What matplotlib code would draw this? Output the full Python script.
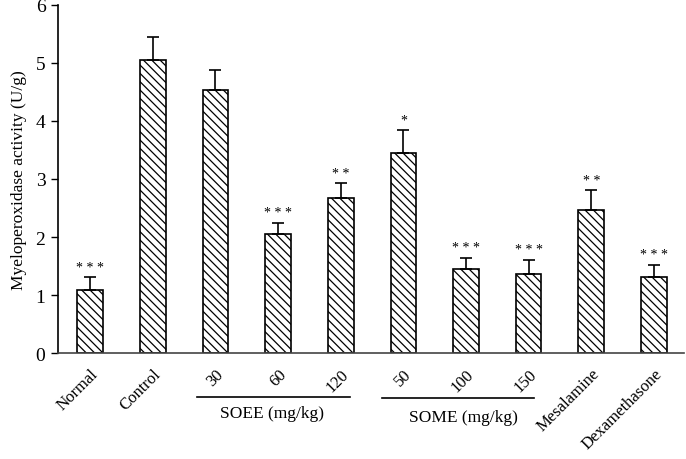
import matplotlib
matplotlib.use('Agg')
import matplotlib.pyplot as plt
import numpy as np

# Data
groups = ['Normal', 'Control', '30', '60', '120', '50', '100', '150', 'Mesalamine', 'Dexamethasone']
mpo = [1.09, 5.05, 4.53, 2.06, 2.67, 3.44, 1.45, 1.37, 2.47, 1.31]
sem = [0.22, 0.40, 0.35, 0.19, 0.26, 0.40, 0.19, 0.24, 0.34, 0.21]
stars = ['***', '', '', '***', '**', '*', '***', '***', '**', '***']

plt.rcParams['font.family'] = ['Liberation Serif', 'DejaVu Serif']
plt.rcParams['hatch.linewidth'] = 0.9

fig = plt.figure(figsize=(6.86, 4.6), dpi=100)
ax = fig.add_axes([0.0845, 0.2304, 0.9125, 0.7566])

x = np.arange(len(groups))
ax.bar(x, mpo, width=0.41, color='white', edgecolor='black', linewidth=1.2,
       hatch='\\\\\\\\', zorder=2)
ax.errorbar(x, mpo, yerr=[np.zeros(len(sem)), sem], fmt='none', ecolor='black',
            elinewidth=1.2, capsize=4, capthick=1.2, zorder=3)

for xi, v, e, s in zip(x, mpo, sem, stars):
    if s:
        ax.text(xi, v + e + 0.06, ' '.join(s), ha='center', va='bottom', fontsize=10)

ax.set_xlim(-0.515, 9.48)
ax.set_ylim(0, 6)
ax.set_yticks(range(0, 7))
ax.tick_params(axis='y', labelsize=14, length=5, width=1, direction='out', pad=4)
ax.tick_params(axis='x', length=0, pad=9)
ax.set_xticks(x)
ax.set_xticklabels(groups, rotation=45, ha='right', rotation_mode='anchor',
                   fontsize=12)
ax.set_ylabel('Myeloperoxidase activity (U/g)', fontsize=12.5, labelpad=6)

for sp in ['top', 'right']:
    ax.spines[sp].set_visible(False)
ax.spines['left'].set_linewidth(1.2)
ax.spines['bottom'].set_linewidth(1.2)
ax.spines['bottom'].set_color('#444444')

# group brackets under the dose labels
fig.add_artist(plt.Line2D([197 / 686, 350 / 686], [1 - 398 / 460] * 2, color='black', lw=1.2))
fig.add_artist(plt.Line2D([382 / 686, 534 / 686], [1 - 399 / 460] * 2, color='black', lw=1.2))
fig.text(272 / 686, 1 - 414 / 460, 'SOEE (mg/kg)', ha='center', va='center', fontsize=12.5)
fig.text(463 / 686, 1 - 418 / 460, 'SOME (mg/kg)', ha='center', va='center', fontsize=12.5)

fig.savefig('out.png', dpi=100)
